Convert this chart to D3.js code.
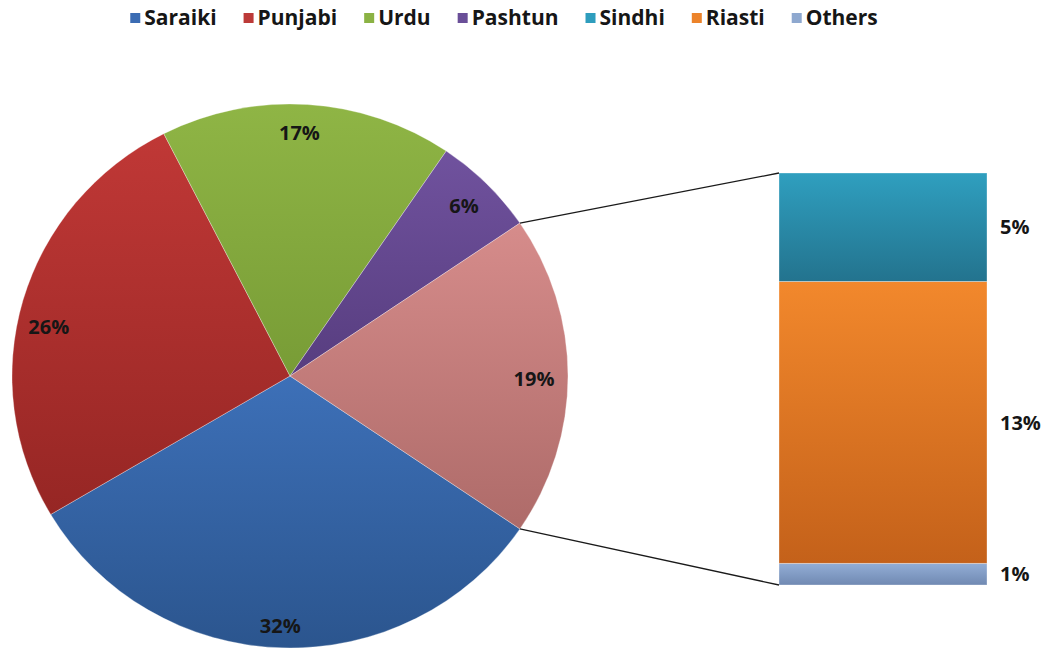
<!DOCTYPE html>
<html>
<head>
<meta charset="utf-8">
<script src="https://cdn.jsdelivr.net/npm/d3@7"></script>
<style>
  html, body { margin: 0; padding: 0; background: #ffffff; }
  svg { display: block; }
  text { font-family: "Open Sans", "DejaVu Sans", sans-serif; font-weight: 700; fill: #161616; }
</style>
</head>
<body>
<svg id="chart" width="1046" height="654"></svg>
<script>
// Language shares (%) — first four go in the pie, the rest are grouped
// into one slice and broken out in the stacked bar on the right.
const categories = ["Saraiki", "Punjabi", "Urdu", "Pashtun", "Sindhi", "Riasti", "Others"];
const shares = [32, 26, 17, 6, 5, 13, 1];
const pieCategoryCount = 4;
const groupedLabel = "Other";

// Fill colours: [legend / base, gradient top, gradient bottom]
const baseColors = ["#3b6cb3", "#bc3a38", "#8bb244", "#6a4f98", "#2e9dbd", "#ec832a", "#8ea8cf"];
const topColors = ["#3d70b8", "#c03836", "#8fb545", "#70529e", "#2f9fbf", "#f2882c", "#93aed6"];
const bottomColors = ["#2b558e", "#962624", "#789c36", "#573d7f", "#23738e", "#c4611a", "#7089b2"];
const groupedColors = ["#d0807f", "#d68c8b", "#ae6b69"];

const svg = d3.select("#chart");
const defs = svg.append("defs");

function addGradient(id, top, bottom) {
  const g = defs.append("linearGradient").attr("id", id)
    .attr("x1", 0).attr("y1", 0).attr("x2", 0).attr("y2", 1);
  g.append("stop").attr("offset", "0%").attr("stop-color", top);
  g.append("stop").attr("offset", "100%").attr("stop-color", bottom);
}
categories.forEach((c, i) => addGradient("grad" + i, topColors[i], bottomColors[i]));
addGradient("gradGroup", groupedColors[1], groupedColors[2]);

// ---------- Pie ----------
const pieRecords = categories.slice(0, pieCategoryCount).map((c, i) => ({
  name: c, value: shares[i], fill: "url(#grad" + i + ")"
}));
const groupedValue = d3.sum(shares.slice(pieCategoryCount));
pieRecords.push({ name: groupedLabel, value: groupedValue, fill: "url(#gradGroup)" });

const total = d3.sum(pieRecords, d => d.value);
const groupedSpan = groupedValue / total * 2 * Math.PI;
// grouped slice is centred on 3 o'clock, the rest follow clockwise
const start = Math.PI / 2 + groupedSpan / 2;

const pie = d3.pie().sort(null).value(d => d.value)
  .startAngle(start).endAngle(start + 2 * Math.PI);
const arcsData = pie(pieRecords);

const cx = 290, cy = 376, rx = 278, ry = 272;
const arc = d3.arc().innerRadius(0).outerRadius(rx);

const pieG = svg.append("g")
  .attr("transform", `translate(${cx},${cy}) scale(1,${ry / rx})`);

pieG.selectAll("path.slice").data(arcsData).enter().append("path")
  .attr("class", "slice")
  .attr("d", arc)
  .attr("fill", d => d.data.fill)
  .attr("stroke", "rgba(255,255,255,0.3)")
  .attr("stroke-width", 1);

// labels near the outer edge, at the middle of each slice
const labelArc = d3.arc().innerRadius(rx * 0.885).outerRadius(rx * 0.885);
const labelNudge = { Saraiki: [-2, 9], Punjabi: [-5, 18], Urdu: [-6, -3], Other: [-2, 3] };
svg.selectAll("text.pielabel").data(arcsData).enter().append("text")
  .attr("class", "pielabel")
  .attr("x", d => cx + labelArc.centroid(d)[0] + (labelNudge[d.data.name] || [0, 0])[0])
  .attr("y", d => cy + labelArc.centroid(d)[1] * ry / rx + (labelNudge[d.data.name] || [0, 0])[1])
  .attr("dy", "0.36em")
  .attr("text-anchor", "middle")
  .style("font-size", "20px")
  .text(d => d.data.value + "%");

// ---------- Stacked bar of the grouped slice ----------
const barLeft = 779, barRight = 987, barTop = 173, barBottom = 585;
const yBar = d3.scaleLinear().domain([0, groupedValue]).range([barBottom, barTop]);

const barParts = categories.slice(pieCategoryCount).map((c, k) => ({
  name: c, value: shares[pieCategoryCount + k], idx: pieCategoryCount + k
}));
// stack bottom-up in reverse legend order (Others at bottom, Sindhi on top)
let acc = 0;
const stacked = barParts.slice().reverse().map(p => {
  const s = { ...p, y0: acc, y1: acc + p.value };
  acc += p.value;
  return s;
});

svg.selectAll("rect.barpart").data(stacked).enter().append("rect")
  .attr("class", "barpart")
  .attr("x", barLeft)
  .attr("width", barRight - barLeft)
  .attr("y", d => yBar(d.y1))
  .attr("height", d => yBar(d.y0) - yBar(d.y1))
  .attr("fill", d => "url(#grad" + d.idx + ")")
  .attr("stroke", "rgba(255,255,255,0.4)")
  .attr("stroke-width", 0.8);

svg.selectAll("text.barlabel").data(stacked).enter().append("text")
  .attr("class", "barlabel")
  .attr("x", 1000)
  .attr("y", d => (yBar(d.y0) + yBar(d.y1)) / 2)
  .attr("dy", "0.36em")
  .style("font-size", "20px")
  .text(d => d.value + "%");

// ---------- Connector lines from grouped slice edges to bar corners ----------
const grouped = arcsData[arcsData.length - 1];
function edgePoint(a) {
  return [cx + rx * Math.sin(a), cy - ry * Math.cos(a)];
}
const pTop = edgePoint(grouped.startAngle);
const pBottom = edgePoint(grouped.endAngle);
const connectors = [
  [pTop, [barLeft, yBar(groupedValue)]],
  [pBottom, [barLeft, yBar(0)]]
];
svg.selectAll("line.connector").data(connectors).enter().append("line")
  .attr("class", "connector")
  .attr("x1", d => d[0][0]).attr("y1", d => d[0][1])
  .attr("x2", d => d[1][0]).attr("y2", d => d[1][1])
  .attr("stroke", "#1a1a1a")
  .attr("stroke-width", 1.3);

// ---------- Legend ----------
const legendG = svg.append("g").attr("class", "legend");
const legendY = 17, swatch = 10, swatchGap = 4, itemGap = 27;
let lx = 0;
categories.forEach((c, i) => {
  const g = legendG.append("g");
  g.append("rect").attr("x", 0).attr("y", legendY - swatch / 2 + 1)
    .attr("width", swatch).attr("height", swatch).attr("fill", baseColors[i]);
  const t = g.append("text").attr("x", swatch + swatchGap).attr("y", legendY)
    .attr("dy", "0.36em").style("font-size", "21px").text(c);
  const w = swatch + swatchGap + t.node().getComputedTextLength();
  g.attr("transform", `translate(${lx},0)`);
  lx += w + itemGap;
});
const legendWidth = lx - itemGap;
legendG.attr("transform", `translate(${504 - legendWidth / 2},0)`);
</script>
</body>
</html>
